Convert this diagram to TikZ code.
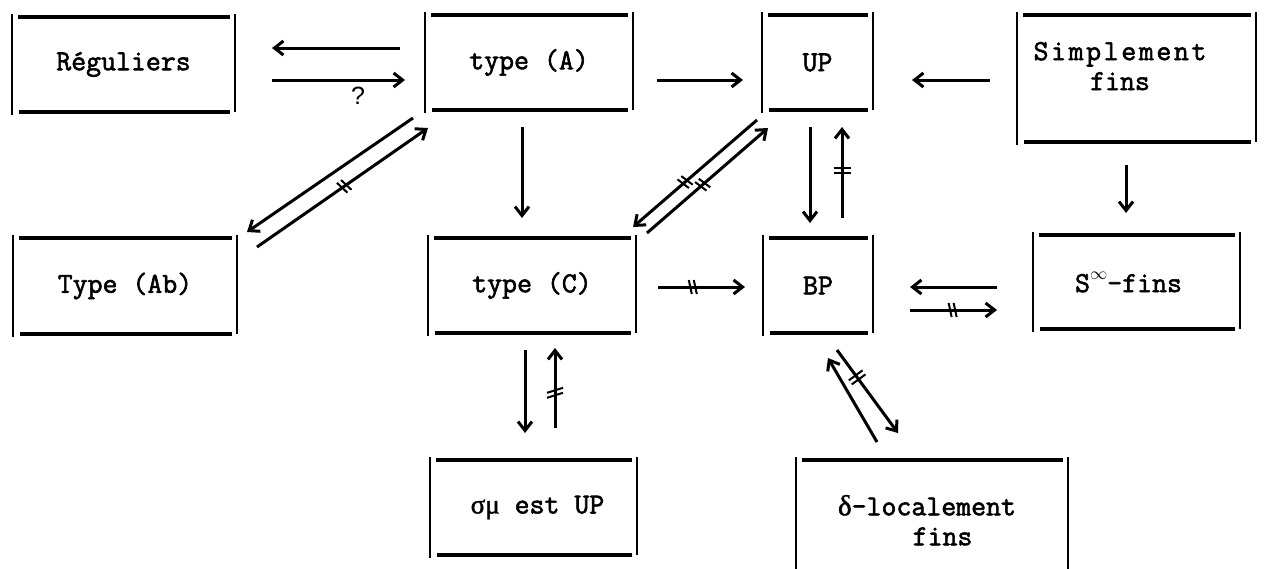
\documentclass[tikz,border=0pt]{standalone}
\usepackage{fontspec}
\setmonofont{Latin Modern Mono}[FakeBold=2]
\newfontfamily\grk{Liberation Serif}[FakeBold=1.5]
\newfontfamily\qfont{Liberation Sans}
\usetikzlibrary{arrows.meta,calc,decorations.markings}

\newcommand\tw{\ttfamily\fontsize{29}{30}\selectfont}

% typewriter-style frame: four separate strokes that do not quite meet
\newcommand\drawframe[1]{%
  \draw[vln] ([yshift=3pt]#1.north west) -- ([yshift=-3pt]#1.south west);
  \draw[vln] ([yshift=3pt]#1.north east) -- ([yshift=0pt]#1.south east);
  \draw[hln] ([xshift=6pt]#1.north west) -- ([xshift=-5pt]#1.north east);
  \draw[hln] ([xshift=7pt]#1.south west) -- ([xshift=-5pt]#1.south east);
}

\begin{document}
\begin{tikzpicture}[x=1pt,y=-1pt,
  frm/.style={inner sep=0pt,outer sep=0pt,font=\tw,align=center},
  lbl/.style={inner sep=0pt,outer sep=0pt,font=\tw},
  hln/.style={line width=3.4pt},
  vln/.style={line width=2.4pt},
  arr/.style={line width=3pt,-{Straight Barb[length=9pt,width=14pt]}},
  hsh/.style={postaction={decorate},decoration={markings,
      mark=at position #1 with {\draw[line width=2pt,-] (-4,-7)--(-1,7) (1,-7)--(4,7);}}},
  neq/.style={postaction={decorate},decoration={markings,
      mark=at position #1 with {\draw[line width=2pt,-] (-2.5,-8.5)--(-2.5,8.5) (2.5,-8.5)--(2.5,8.5);}}},
  sneq/.style={postaction={decorate},decoration={markings,
      mark=at position #1 with {\draw[line width=2pt,-] (-5,-8)--(0,8) (0,-8)--(5,8);}}}
]
\path[use as bounding box] (0,0) rectangle (1266,568);

% boxes
\node[frm,minimum width=223pt,minimum height=95pt] (R)   at (123.5,64.5) {Réguliers};
\node[frm,minimum width=208pt,minimum height=95pt] (A)   at (529,62.5)   {type (A)};
\node[frm,minimum width=111pt,minimum height=95pt] (UP)  at (817.5,62.5) {UP};
\node[frm,minimum width=239pt,minimum height=127pt] (SF) at (1136.5,78.5) {};
\node[frm,minimum width=224pt,minimum height=96pt] (Ab)  at (125,286)    {Type (Ab)};
\node[frm,minimum width=208pt,minimum height=95pt] (C)   at (532,285.5)  {type (C)};
\node[frm,minimum width=110pt,minimum height=95pt] (BP)  at (818,285.5)  {BP};
\node[frm,minimum width=207pt,minimum height=94pt] (Si)  at (1136.5,282)
  {\hspace*{-16pt}S\raisebox{13pt}{\fontsize{18}{18}\selectfont$\infty$}-fins};
\node[frm,minimum width=207pt,minimum height=95pt] (sig) at (533.5,507.5)
  {\hspace*{8pt}{\grk\fontsize{27}{30}\selectfont σμ} est UP};
\node[frm,minimum width=272pt,minimum height=125pt] (del) at (932,522.5) {};

\node[lbl,align=center,anchor=north] (SFt) at (1120,42)
  {{\addfontfeature{LetterSpace=9}Simplement}\\fins};
\node[lbl,align=left,anchor=north west] (delt) at (838,495)
  {{\grk δ}-localement\\\phantom{xxxxx}fins};

\drawframe{R}
\drawframe{A}
\drawframe{UP}
\drawframe{SF}
\drawframe{Ab}
\drawframe{C}
\drawframe{BP}
\drawframe{Si}
\drawframe{sig}
% the last frame runs off the foot of the page
\draw[vln] ([yshift=3pt]del.north west) -- ([yshift=-30pt]del.north west |- del.south);
\draw[vln] ([yshift=3pt]del.north east) -- ([yshift=-30pt]del.north east |- del.south);
\draw[hln] ([xshift=6pt]del.north west) -- ([xshift=-5pt]del.north east);

% top row
\draw[arr] ($(A.center)+(-129,-14.5)$) -- ($(R.center)+(148.5,-16.5)$);
\draw[arr] ($(R.center)+(148.5,15.5)$) -- ($(A.center)+(-124,17.5)$);
\node[inner sep=0pt] (q) at ($(R.center)+(234.5,31)$) {\qfont\fontsize{25}{25}\selectfont ?};
\draw[arr] ($(A.center)+(128,17.5)$) -- ($(UP.center)+(-74.5,17.5)$);
\draw[arr] ($(SF.center)+(-146.5,1.5)$) -- ($(UP.center)+(94.5,17.5)$);

% verticals from the top row
\draw[arr] ($(A.center)+(-7,64.5)$) -- ($(C.center)+(-10,-67.5)$);
\draw[arr] ($(UP.center)+(-7.5,64.5)$) -- ($(BP.center)+(-8,-62.5)$);
\draw[arr,neq=0.52] ($(BP.center)+(24,-67.5)$) -- ($(UP.center)+(24.5,64.5)$);
\draw[arr] ($(SF.center)+(-10.5,86.5)$) -- ($(Si.center)+(-10.5,-69)$);

% diagonals
\draw[arr] ($(A.center)+(-116,55.5)$) -- ($(Ab.center)+(122,-54)$);
\draw[arr,hsh=0.51] ($(Ab.center)+(132,-39)$) -- ($(A.center)+(-101,65.5)$);
\draw[arr,hsh=0.58] ($(UP.center)+(-60.5,57.5)$) -- ($(C.center)+(101,-58.5)$);
\draw[arr,hsh=0.46] ($(C.center)+(115,-52.5)$) -- ($(UP.center)+(-49.5,65.5)$);

% middle row
\draw[arr,hsh=0.4] ($(C.center)+(126,1.5)$) -- ($(BP.center)+(-73,1.5)$);
\draw[arr] ($(Si.center)+(-139.5,5)$) -- ($(BP.center)+(92,1.5)$);
\draw[arr,hsh=0.49] ($(BP.center)+(92,24.5)$) -- ($(Si.center)+(-139.5,28)$);

% bottom row
\draw[arr] ($(C.center)+(-7,64.5)$) -- ($(sig.center)+(-8.5,-74.5)$);
\draw[arr,sneq=0.44] ($(sig.center)+(21.5,-79.5)$) -- ($(C.center)+(23,62.5)$);
\draw[arr] ($(del.center)+(-55,-80.5)$) -- ($(BP.center)+(10,72.5)$);
\draw[arr,neq=0.33] ($(BP.center)+(19,64.5)$) -- ($(del.center)+(-34,-89.5)$);
\end{tikzpicture}
\end{document}
